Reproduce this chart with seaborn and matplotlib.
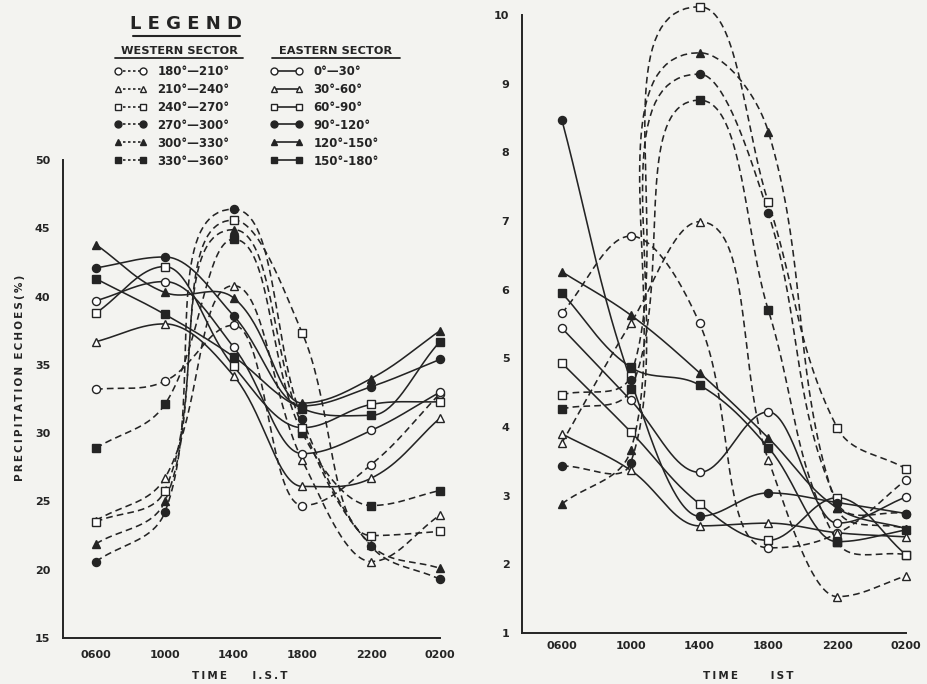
import numpy as np
import matplotlib
matplotlib.use("Agg")
import matplotlib.pyplot as plt
import seaborn as sns
from matplotlib.lines import Line2D

# ---------------- data ----------------
times = ["0600", "1000", "1400", "1800", "2200", "0200"]

west_labels = ["180\u00b0\u2014210\u00b0", "210\u00b0\u2014240\u00b0", "240\u00b0\u2014270\u00b0",
               "270\u00b0\u2014300\u00b0", "300\u00b0\u2014330\u00b0", "330\u00b0\u2014360\u00b0"]
east_labels = ["0\u00b0\u201430\u00b0", "30\u00b0-60\u00b0", "60\u00b0-90\u00b0",
               "90\u00b0-120\u00b0", "120\u00b0-150\u00b0", "150\u00b0-180\u00b0"]

# left panel (%)
left_west = [
    [33.2, 33.8, 37.9, 24.7, 27.7, 32.9],   # 180-210
    [23.6, 26.7, 40.8, 28.0, 20.6, 24.0],   # 210-240
    [23.5, 25.8, 45.6, 37.3, 22.5, 22.8],   # 240-270
    [20.6, 24.2, 46.4, 31.0, 21.7, 19.3],   # 270-300
    [21.9, 25.0, 44.9, 30.5, 21.8, 20.1],   # 300-330
    [28.9, 32.1, 44.2, 30.0, 24.7, 25.8],   # 330-360
]
left_east = [
    [39.7, 41.1, 36.3, 28.5, 30.2, 33.0],   # 0-30
    [36.7, 38.0, 34.2, 26.1, 26.7, 31.1],   # 30-60
    [38.8, 42.2, 34.9, 30.4, 32.1, 32.3],   # 60-90
    [42.1, 42.9, 38.6, 32.0, 33.4, 35.4],   # 90-120
    [43.8, 40.3, 39.9, 32.2, 34.0, 37.5],   # 120-150
    [41.3, 38.7, 35.6, 31.8, 31.3, 36.7],   # 150-180
]
# right panel
right_west = [
    [5.66, 6.78, 5.51, 2.24, 2.45, 3.23],
    [3.77, 5.51, 6.99, 3.52, 1.53, 1.83],
    [4.47, 4.75, 10.12, 7.27, 3.99, 3.39],
    [3.43, 3.48, 9.14, 7.11, 2.90, 2.74],
    [2.88, 3.66, 9.45, 8.30, 2.82, 2.52],
    [4.26, 4.55, 8.76, 5.70, 2.33, 2.14],
]
right_east = [
    [5.44, 4.39, 3.34, 4.22, 2.60, 2.98],
    [3.90, 3.37, 2.56, 2.60, 2.46, 2.40],
    [4.93, 3.93, 2.88, 2.35, 2.97, 2.14],
    [8.47, 4.68, 2.70, 3.04, 2.90, 2.74],
    [6.26, 5.63, 4.79, 3.84, 2.82, 2.52],
    [5.95, 4.87, 4.61, 3.70, 2.33, 2.50],
]

markers = ["o", "^", "s", "o", "^", "s"]
filled = [False, False, False, True, True, True]

INK = "#242424"
BG = "#f3f3f0"
DASH = (0, (4.2, 2.6))

sns.set_theme(style="white")
plt.rcParams["font.family"] = ["DejaVu Sans"]
plt.rcParams["font.weight"] = "bold"


def spaced(s):
    return "\u2009".join(s)


def smooth(xv, yv, sx, sy, c=1.1, n=40):
    """Hand-drawn-like Hermite curve through points (computed in pixel-like units)."""
    P = np.column_stack([np.asarray(xv, float) * sx, np.asarray(yv, float) * sy])
    k = len(P)
    D = np.zeros_like(P)
    ext = np.zeros(k, bool)
    for i in range(k):
        if i == 0:
            d = P[1] - P[0]
        elif i == k - 1:
            d = P[-1] - P[-2]
        else:
            a, b = P[i] - P[i - 1], P[i + 1] - P[i]
            if a[1] * b[1] < 0:
                d = np.array([1.0, 0.0])
                ext[i] = True
            else:
                d = P[i + 1] - P[i - 1]
        D[i] = d / np.linalg.norm(d)
    t = np.linspace(0, 1, n)
    h00 = 2 * t**3 - 3 * t**2 + 1
    h10 = t**3 - 2 * t**2 + t
    h01 = -2 * t**3 + 3 * t**2
    h11 = t**3 - t**2
    segs = []
    for i in range(k - 1):
        dx = abs(P[i + 1, 0] - P[i, 0])
        chord = np.linalg.norm(P[i + 1] - P[i])
        Lh = c * (dx + max(0.0, chord - 2.5 * dx))
        L0 = Lh if ext[i] else c * chord
        L1 = Lh if ext[i + 1] else c * chord
        seg = (h00[:, None] * P[i] + h10[:, None] * D[i] * L0
               + h01[:, None] * P[i + 1] + h11[:, None] * D[i + 1] * L1)
        segs.append(seg if i == 0 else seg[1:])
    S = np.vstack(segs)
    return S[:, 0] / sx, S[:, 1] / sy


fig = plt.figure(figsize=(9.28, 6.84), dpi=100, facecolor=BG)
ax1 = fig.add_axes([63 / 928, 1 - 638 / 684, (440 - 63) / 928, (638 - 160) / 684])
ax2 = fig.add_axes([522 / 928, 1 - 633 / 684, (906 - 522) / 928, (633 - 15) / 684])

xi = np.arange(len(times))


def draw(ax, west, east, sx, sy):
    for group, ls in ((west, DASH), (east, "-")):
        for vals, m, f in zip(group, markers, filled):
            cx, cy = smooth(xi, vals, sx, sy)
            sns.lineplot(x=cx, y=cy, ax=ax, sort=False, estimator=None,
                         color=INK, lw=1.15, linestyle=ls, clip_on=False, legend=False)
            ax.plot(xi, vals, linestyle="none", marker=m, ms=5.8 if m != "s" else 5.2,
                    mfc=INK if f else "white", mec=INK, mew=1.0, clip_on=False, zorder=5)


draw(ax1, left_west, left_east, 68.8, 13.66)
draw(ax2, right_west, right_east, 68.7, 68.67)

for ax in (ax1, ax2):
    ax.set_facecolor("none")
    for s in ("top", "right"):
        ax.spines[s].set_visible(False)
    for s in ("left", "bottom"):
        ax.spines[s].set_color(INK)
        ax.spines[s].set_linewidth(1.4)
    ax.set_xticks(xi)
    ax.set_xticklabels(times)
    ax.tick_params(axis="both", direction="in", length=7, width=1.2, color=INK,
                   labelsize=8, labelcolor=INK, pad=9)
    ax.set_xlabel("")
    ax.set_ylabel("")

ax1.set_xlim(-0.48, 5.0)
ax1.set_ylim(15, 50)
ax1.set_yticks([15, 20, 25, 30, 35, 40, 45, 50])
ax2.set_xlim(-0.58, 5.0)
ax2.set_ylim(1, 10)
ax2.set_yticks(range(1, 11))
ax2.tick_params(axis="x", pad=6)
for ax in (ax1, ax2):
    for lab in ax.get_yticklabels() + ax.get_xticklabels():
        lab.set_fontweight("bold")

fig.text(20 / 928, 1 - 378 / 684, spaced("PRECIPITATION") + "  " + spaced("ECHOES(%)"),
         rotation=90, ha="center", va="center", fontsize=7.5, fontweight="bold", color=INK)
fig.text(240 / 928, 1 - 676 / 684, spaced("TIME") + "       " + spaced("I.S.T"),
         ha="center", va="center", fontsize=7.5, fontweight="bold", color=INK)
fig.text(748 / 928, 1 - 676 / 684, spaced("TIME") + "         " + spaced("IST"),
         ha="center", va="center", fontsize=7.5, fontweight="bold", color=INK)

# ---------------- legend ----------------
fig.text(186 / 928, 1 - 24 / 684, "L E G E N D", ha="center", va="center",
         fontsize=13, fontweight="bold", color=INK)
fig.add_artist(Line2D([133 / 928, 240 / 928], [1 - 36 / 684] * 2, color=INK, lw=1.5))
fig.text(179 / 928, 1 - 51 / 684, "WESTERN SECTOR", ha="center", va="center",
         fontsize=8.2, fontweight="bold", color=INK)
fig.add_artist(Line2D([115 / 928, 243 / 928], [1 - 58 / 684] * 2, color=INK, lw=1.3))
fig.text(336 / 928, 1 - 51 / 684, "EASTERN SECTOR", ha="center", va="center",
         fontsize=8.2, fontweight="bold", color=INK)
fig.add_artist(Line2D([272 / 928, 400 / 928], [1 - 58 / 684] * 2, color=INK, lw=1.3))


def handles(ls):
    return [Line2D([0], [0], color=INK, lw=1.2, linestyle=ls, marker=m,
                   ms=5 if m != "s" else 4.5, mfc=INK if f else "white", mec=INK)
            for m, f in zip(markers, filled)]


leg_kw = dict(frameon=False, loc="upper left", numpoints=2, handlelength=2.7,
              handletextpad=0.9, labelspacing=0.42, borderaxespad=0,
              prop={"size": 8.5, "weight": "bold"}, labelcolor=INK)
fig.legend(handles((0, (1.5, 1.5))), west_labels,
           bbox_to_anchor=(110 / 928, 1 - 60 / 684), **leg_kw)
fig.legend(handles("-"), east_labels, bbox_to_anchor=(266 / 928, 1 - 60 / 684), **leg_kw)

fig.savefig("out.png", dpi=100, facecolor=BG)
